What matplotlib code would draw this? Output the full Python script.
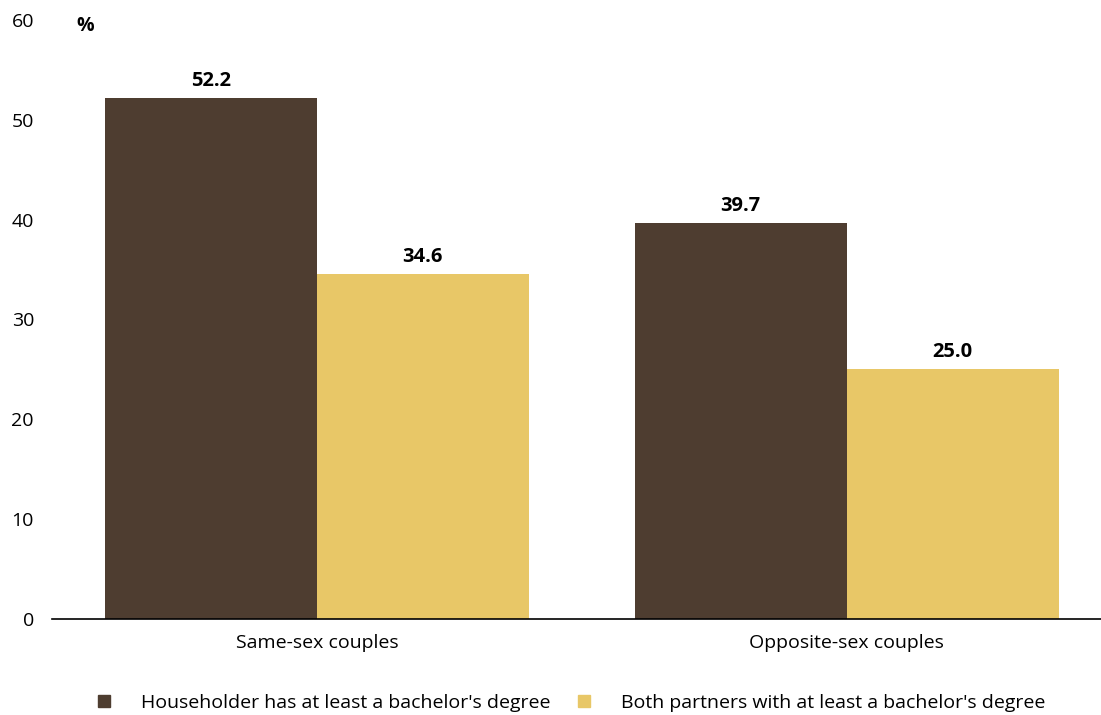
import matplotlib
matplotlib.use("Agg")
import matplotlib.pyplot as plt
from matplotlib.lines import Line2D
import numpy as np

categories = ["Same-sex couples", "Opposite-sex couples"]
series_names = ["Householder has at least a bachelor's degree",
                "Both partners with at least a bachelor's degree"]
householder = [52.2, 39.7]
both_partners = [34.6, 25.0]
yticks = [0, 10, 20, 30, 40, 50, 60]

colors = ["#4E3D30", "#E8C767"]

plt.rcParams['font.family'] = ['Open Sans', 'DejaVu Sans']

fig = plt.figure(figsize=(11.01, 7.15), dpi=100)
ax = fig.add_axes([52/1101, 1 - 619/715, 1 - 52/1101, (619 - 20)/715])

x = np.arange(len(categories))
w = 0.4
for i, (vals, c) in enumerate(zip([householder, both_partners], colors)):
    pos = x + (i - 0.5) * w
    ax.bar(pos, vals, width=w, color=c, label=series_names[i], zorder=2)
    for p, v in zip(pos, vals):
        ax.annotate(f"{v:.1f}", (p, v), xytext=(0, 5), textcoords="offset points",
                    ha="center", va="bottom", fontsize=14.5, fontweight="bold", color="black")

ax.set_xlim(-0.5, 1.48)
ax.set_ylim(0, 60)
ax.set_yticks(yticks)
ax.set_yticklabels([str(t) for t in yticks], fontsize=14)
ax.set_xticks(x)
ax.set_xticklabels(categories, fontsize=14)
ax.tick_params(axis='y', length=0, pad=13)
ax.tick_params(axis='x', length=0, pad=11)
for s in ["top", "right", "left"]:
    ax.spines[s].set_visible(False)
ax.spines["bottom"].set_linewidth(1.2)
ax.spines["bottom"].set_color("black")

fig.text(76/1101, 1 - 26/715, "%", fontsize=14, fontweight="bold", va="center", ha="left")

handles = [Line2D([0], [0], marker='s', linestyle='none', markersize=9,
                  markerfacecolor=c, markeredgecolor=c) for c in colors]
fig.legend(handles, series_names, loc="center", bbox_to_anchor=(570/1101, 1 - 703/715),
           ncol=2, frameon=False, fontsize=14, handletextpad=1.4, columnspacing=1.2,
           handlelength=1.0)

fig.savefig("out.png", dpi=100)
